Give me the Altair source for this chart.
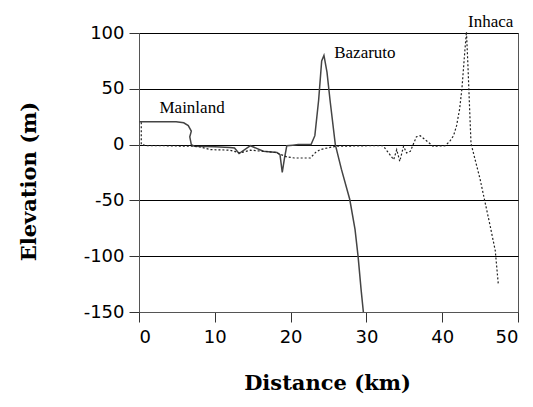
import altair as alt
import pandas as pd

# Solid profile (Mainland -> Bazaruto)
solid_km = [0, 4.9, 5.9, 6.5, 6.9, 6.7, 6.9, 7.3, 10, 12, 12.6, 13.2, 14.7, 16.4, 18.2, 18.6,
            18.9, 19.2, 19.5, 20.3, 21, 22.7, 23.2, 23.7, 24.1, 24.4, 24.8, 25.2, 25.9, 26.7,
            27.8, 28.5, 28.9, 29.3, 29.6]
solid_elev = [20.5, 20.5, 19.5, 17, 12, 7, 0, -1.5, -2, -2.5, -3, -8, -1, -6, -7, -9,
              -25, -12, -1, -0.5, 0, 0, 8, 40, 75, 80, 65, 40, 0, -22,
              -49, -76, -100, -130, -150]

# Dotted profile (Mainland -> Inhaca)
dotted_km = [0.3, 0.3, 1.0, 3, 7, 8, 9.4, 12, 13.3, 14.7, 16.4, 18, 19.5, 20.5, 22.6, 23.3,
             23.9, 25.2, 26, 30.5, 32.2, 33.6, 34.0, 34.4, 34.9, 35.3, 35.8, 36.6, 37.1, 38.0,
             38.8, 40.4, 41.0, 41.5, 41.9, 42.3, 42.6, 43.0, 43.2, 43.4, 43.6, 43.8, 44.4, 45.0,
             45.6, 46.3, 47.0, 47.4]
dotted_elev = [20, 0, -1, -1, -1.5, -2, -4.5, -5, -7.5, -5, -6, -7, -11, -12, -12, -7,
               -4.5, -2.5, -1.5, -1, -1, -13.5, -4.5, -15, -1.5, -7.5, -6, 7, 8, 3,
               -1.5, -1, 3, 8, 17, 32, 50, 85, 101, 70, 35, 1, -15, -31,
               -50, -72, -95, -125]

label_text = ["Mainland", "Bazaruto", "Inhaca"]
label_km = [7.0, 29.8, 46.4]
label_elev = [32.7, 82.4, 109.8]

x_ticks = [0, 10, 20, 30, 40, 50]
y_ticks = [-150, -100, -50, 0, 50, 100]

solid_df = pd.DataFrame({"km": solid_km, "elev": solid_elev, "i": range(len(solid_km))})
dotted_df = pd.DataFrame({"km": dotted_km, "elev": dotted_elev, "i": range(len(dotted_km))})
label_df = pd.DataFrame({"text": label_text, "km": label_km, "elev": label_elev})

xs = alt.Scale(domain=[0, 50], nice=False, zero=False)
ys = alt.Scale(domain=[-150, 100], nice=False, zero=False)

x_axis = alt.Axis(values=x_ticks, grid=False, title="Distance (km)",
                  labelExpr="toString(datum.value)",
                  labelFont="DejaVu Sans", labelFontSize=18, labelColor="black",
                  labelPadding=6, tickSize=10, tickColor="#333", domainColor="#555",
                  titleFont="DejaVu Serif", titleFontSize=21, titleFontWeight="bold",
                  titleColor="black", titleX=188, titleY=71, titleBaseline="middle")
y_axis = alt.Axis(values=y_ticks, grid=True, gridColor="black", gridOpacity=1, gridWidth=1,
                  title="Elevation (m)",
                  labelExpr="toString(datum.value)",
                  labelFont="DejaVu Sans", labelFontSize=18, labelColor="black",
                  labelPadding=5, tickSize=10, tickColor="#333", domainColor="#555",
                  titleFont="DejaVu Serif", titleFontSize=21, titleFontWeight="bold",
                  titleColor="black", titleX=-110, titleY=148, titleAngle=270,
                  titleBaseline="middle", titleAlign="center")

solid = alt.Chart(solid_df).mark_line(color="#444", strokeWidth=1.5).encode(
    x=alt.X("km:Q", scale=xs, axis=x_axis),
    y=alt.Y("elev:Q", scale=ys, axis=y_axis),
    order="i:Q",
)
dotted = alt.Chart(dotted_df).mark_line(color="#222", strokeWidth=1.2, strokeDash=[2, 2]).encode(
    x=alt.X("km:Q", scale=xs),
    y=alt.Y("elev:Q", scale=ys),
    order="i:Q",
)
labels = alt.Chart(label_df).mark_text(font="Liberation Serif", fontSize=17, color="black",
                                       align="center", baseline="middle").encode(
    x=alt.X("km:Q", scale=xs),
    y=alt.Y("elev:Q", scale=ys),
    text="text:N",
)

chart = alt.layer(solid, dotted, labels).properties(
    width=379, height=279,
    autosize=alt.AutoSizeParams(type="none"),
    padding={"left": 131, "top": 25, "right": 7, "bottom": 95},
).configure_view(stroke="#555", strokeWidth=1)

chart.save("out.html", embed_options={"renderer": "svg", "actions": False})
